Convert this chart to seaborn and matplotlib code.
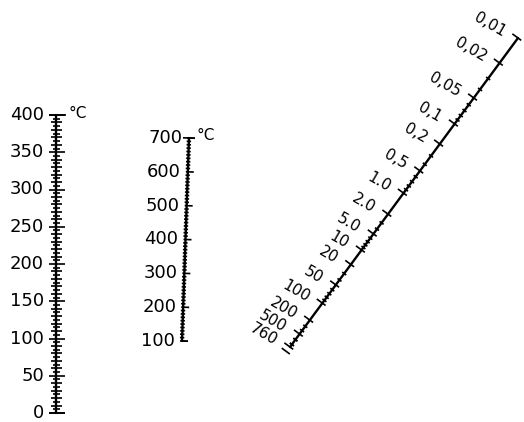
import numpy as np
import matplotlib
matplotlib.use("Agg")
import matplotlib.pyplot as plt
from matplotlib.collections import LineCollection
import seaborn as sns
import pandas as pd

# ---------------- data ----------------
left_temp_labels = [0, 50, 100, 150, 200, 250, 300, 350, 400]
left_temp_minor_step = 5
mid_temp_labels = [100, 200, 300, 400, 500, 600, 700]
mid_temp_minor_step = 10
pressure_values = [0.01, 0.02, 0.05, 0.1, 0.2, 0.5, 1.0, 2.0, 5.0, 10, 20, 50, 100, 200, 500, 760]
pressure_labels = ["0,01", "0,02", "0,05", "0,1", "0,2", "0,5", "1.0", "2.0", "5.0",
                   "10", "20", "50", "100", "200", "500", "760"]
# fraction along the pressure scale (0 = 0,01 end, 1 = 760 end)
pressure_scale_pos = [0.0, 0.081, 0.194, 0.278, 0.343, 0.430, 0.502, 0.570, 0.634,
                      0.686, 0.733, 0.799, 0.858, 0.913, 0.958, 1.0]
unit_label = "°C"

# ---------------- layout ----------------
W, H = 524, 422
sns.set_theme(style="white")
plt.rcParams['font.family'] = ['DejaVu Sans']
fig = plt.figure(figsize=(W / 100, H / 100), dpi=100)
ax = fig.add_axes([0, 0, 1, 1])
ax.set_xlim(0, W)
ax.set_ylim(H, 0)
ax.axis("off")

LINE_W = 1.7
TICK_W = 1.2


def draw_scale(start, end, fracs_major, labels, fracs_minor, major_len, minor_len,
               label_off, fontsize, rotation=0, extra=None):
    start = np.array(start, float)
    end = np.array(end, float)
    u = (end - start) / np.linalg.norm(end - start)
    n = np.array([-u[1], u[0]])  # right-hand normal (pixel coords, y down)
    df = pd.DataFrame({"x": [start[0], end[0]], "y": [start[1], end[1]]})
    sns.lineplot(data=df, x="x", y="y", sort=False, estimator=None, color="black",
                 lw=LINE_W, ax=ax, legend=False)
    segs = []
    for f in fracs_minor:
        p = start + (end - start) * f
        segs.append([p - n * minor_len[0], p + n * minor_len[1]])
    for f in fracs_major:
        p = start + (end - start) * f
        segs.append([p - n * major_len[0], p + n * major_len[1]])
    if extra:
        for f, (l, r) in extra:
            p = start + (end - start) * f
            segs.append([p - n * l, p + n * r])
    ax.add_collection(LineCollection(segs, colors="black", linewidths=TICK_W))
    for f, lab in zip(fracs_major, labels):
        p = start + (end - start) * f + np.array(label_off, float)
        ax.text(p[0], p[1], lab, ha="right", va="center", rotation=rotation,
                rotation_mode="anchor", fontsize=fontsize, color="black")


# left temperature scale (0..400, linear)
lmin, lmax = left_temp_labels[0], left_temp_labels[-1]
l_major = [(v - lmin) / (lmax - lmin) for v in left_temp_labels]
l_minor_vals = np.arange(lmin, lmax + 1, left_temp_minor_step)
l_minor = [(v - lmin) / (lmax - lmin) for v in l_minor_vals
           if v not in left_temp_labels and v % 10 != 0]
l_mid = [(v - lmin) / (lmax - lmin) for v in l_minor_vals
         if v % 10 == 0 and v not in left_temp_labels]
draw_scale((56, 413), (56, 115), l_major, [str(v) for v in left_temp_labels], l_minor,
           (7, 9), (3, 3.5), (-12, 0), 13,
           extra=[(f, (5, 5.5)) for f in l_mid] + [(0, (7, 9)), (1, (7, 10))])
ax.text(68, 113, unit_label, ha="left", va="center", fontsize=11, color="black")

# middle temperature scale (100..700, linear)
mmin, mmax = mid_temp_labels[0], mid_temp_labels[-1]
m_major = [(v - mmin) / (mmax - mmin) for v in mid_temp_labels]
m_minor_vals = np.arange(mmin, mmax + 1, mid_temp_minor_step)
m_minor = [(v - mmin) / (mmax - mmin) for v in m_minor_vals if v not in mid_temp_labels]
draw_scale((182, 341), (189, 138), m_major, [str(v) for v in mid_temp_labels], m_minor,
           (2, 6), (2.2, 2.2), (-7, 0), 13,
           extra=[(1, (6, 6)), (0, (1, 6))])
ax.text(197, 136, unit_label, ha="left", va="center", fontsize=11, color="black")

# pressure scale; start = 760 end, end = 0,01 end
logp = np.log10(pressure_values)
minor_p = []
for dec in range(-2, 3):
    for k in range(1, 10):
        v = k * 10.0 ** dec
        if v < pressure_values[0] or v > pressure_values[-1]:
            continue
        if any(np.isclose(v, pv) for pv in pressure_values):
            continue
        minor_p.append(v)
minor_p = minor_p + [600, 700]
minor_pos = np.interp(np.log10(minor_p), logp, pressure_scale_pos)
p_major = [1 - f for f in pressure_scale_pos]
p_minor = [1 - f for f in minor_pos]
draw_scale((290, 347), (518, 38), p_major, pressure_labels, p_minor,
           (7, 4), (2.5, 2.5), (-14, -5), 11, rotation=-30,
           extra=[(-0.015, (6, 4))])

fig.savefig("out.png", dpi=100, facecolor="white")
